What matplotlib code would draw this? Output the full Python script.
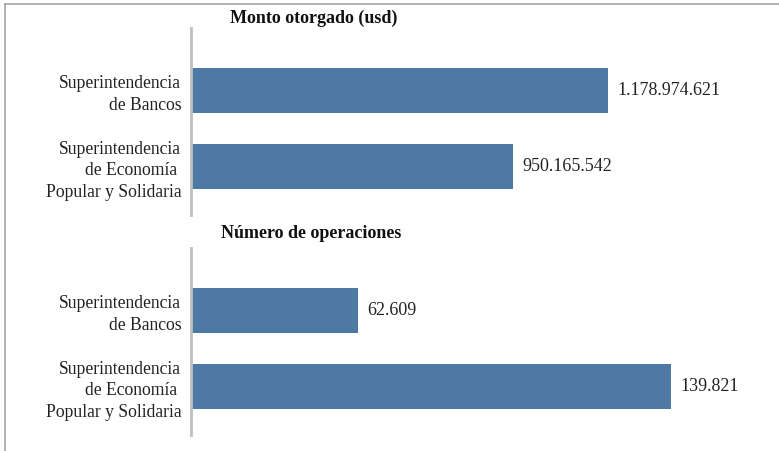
import matplotlib.pyplot as plt
from matplotlib.lines import Line2D

categories = ['Superintendencia\nde Bancos',
              'Superintendencia\nde Economía \nPopular y Solidaria']
monto_usd = [1178974621, 950165542]
num_operaciones = [62609, 139821]
monto_labels = ['1.178.974.621', '950.165.542']
oper_labels = ['62.609', '139.821']

bar_color = '#4e79a5'
plt.rcParams['font.family'] = ['Liberation Serif', 'DejaVu Serif']

fig = plt.figure(figsize=(7.79, 4.51), dpi=100)

def draw_panel(rect, values, labels, xlim):
    ax = fig.add_axes(rect)
    y = range(len(categories))
    ax.barh(y, values, height=0.59, color=bar_color)
    ax.set_xlim(*xlim)
    ax.set_ylim(1.638, -0.822)
    ax.set_yticks(list(y))
    ax.set_yticklabels(categories, fontsize=12.7, color='#222222', linespacing=1.38)
    ax.tick_params(axis='y', length=0, pad=7)
    ax.set_xticks([])
    for s in ['top', 'right', 'bottom']:
        ax.spines[s].set_visible(False)
    ax.spines['left'].set_color('#bfbfbf')
    ax.spines['left'].set_linewidth(2)
    for yi, v, lab in zip(y, values, labels):
        ax.annotate(lab, (v, yi), xytext=(7, 0), textcoords='offset points',
                    va='center', ha='left', fontsize=13, color='#222222')
    return ax

draw_panel([0.2452, 0.5233, 0.7304, 0.4146], monto_usd, monto_labels, (174e6, 1545e6))
draw_panel([0.2452, 0.0355, 0.7304, 0.4146], num_operaciones, oper_labels, (21413, 161775))

fig.text(0.403, 0.96, 'Monto otorgado (usd)', ha='center', va='center',
         fontsize=13, fontweight='bold', color='#111111')
fig.text(0.400, 0.483, 'Número de operaciones', ha='center', va='center',
         fontsize=13, fontweight='bold', color='#111111')

# marco parcial (arriba e izquierda)
fig.add_artist(Line2D([5 / 779, 1], [1 - 4 / 451, 1 - 4 / 451], color='#a6a6a6', lw=1.2))
fig.add_artist(Line2D([5 / 779, 5 / 779], [0, 1 - 4 / 451], color='#a6a6a6', lw=1.2))

fig.savefig('out.png', dpi=100)
